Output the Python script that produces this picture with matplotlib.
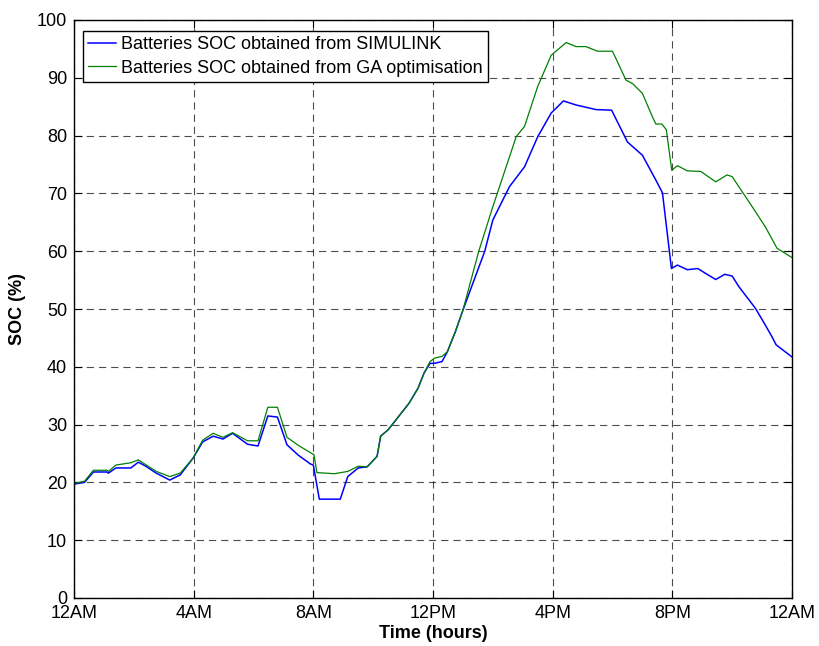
import numpy as np
import matplotlib
matplotlib.use('Agg')
import matplotlib.pyplot as plt

plt.rcParams['font.family'] = ['Liberation Sans', 'DejaVu Sans']

# Battery state of charge over one day (hours from midnight, SOC in %)
hours_sim = [0.0, 0.35, 0.65, 1.1, 1.15, 1.4, 1.9, 2.15, 2.4, 2.75, 3.2, 3.55, 3.98,
             4.3, 4.65, 4.98, 5.3, 5.8, 6.15, 6.48, 6.8, 7.12, 7.5, 7.9, 8.0, 8.2,
             8.9, 9.15, 9.5, 9.8, 10.13, 10.25, 10.5, 10.85, 11.2, 11.5, 11.7, 11.9,
             12.05, 12.3, 12.48, 12.75, 13.0, 13.73, 14.0, 14.56, 15.06, 15.5, 15.95,
             16.36, 16.78, 17.45, 17.97, 18.5, 19.0, 19.45, 19.67, 19.97, 20.17, 20.5,
             20.85, 21.1, 21.45, 21.75, 22.0, 22.22, 22.78, 23.11, 23.33, 23.47, 24.0]
soc_sim = [19.7, 20.0, 21.8, 21.8, 21.6, 22.5, 22.5, 23.5, 22.8, 21.6, 20.4, 21.3, 24.2,
           27.0, 28.0, 27.5, 28.5, 26.6, 26.3, 31.5, 31.3, 26.5, 24.7, 23.2, 23.0, 17.1,
           17.1, 21.0, 22.5, 22.7, 24.5, 28.0, 29.1, 31.4, 33.7, 36.3, 38.9, 40.6,
           40.6, 40.9, 42.6, 46.1, 49.8, 60.0, 65.4, 71.2, 74.6, 79.8, 83.9,
           86.0, 85.3, 84.5, 84.4, 78.9, 76.6, 72.3, 70.1, 57.0, 57.6, 56.8,
           57.0, 56.2, 55.1, 56.0, 55.7, 53.9, 50.1, 47.2, 45.2, 43.8, 41.7]

hours_ga = [0.0, 0.35, 0.65, 1.1, 1.15, 1.4, 1.9, 2.15, 2.75, 3.2, 3.55, 3.98, 4.3,
            4.65, 4.98, 5.3, 5.8, 6.15, 6.48, 6.8, 7.12, 7.5, 7.92, 8.02, 8.12, 8.7,
            9.15, 9.5, 9.8, 10.13, 10.25, 10.5, 10.85, 11.2, 11.5, 11.7, 11.9, 12.05,
            12.3, 12.48, 12.75, 13.0, 13.53, 14.0, 14.78, 15.06, 15.5, 15.95, 16.45,
            16.78, 17.11, 17.5, 18.0, 18.45, 18.67, 19.0, 19.33, 19.45, 19.65, 19.8,
            19.98, 20.17, 20.5, 20.95, 21.45, 21.83, 22.0, 22.67, 23.11, 23.5, 24.0]
soc_ga = [19.8, 20.2, 22.1, 22.1, 21.9, 23.0, 23.4, 23.9, 21.9, 21.0, 21.6, 24.2, 27.3,
          28.5, 27.8, 28.6, 27.2, 27.2, 33.0, 33.0, 27.8, 26.4, 25.1, 24.8, 21.7, 21.5,
          21.9, 22.8, 22.7, 24.5, 28.0, 29.1, 31.4, 33.7, 36.3, 38.9, 40.9, 41.5,
          41.8, 42.6, 46.1, 49.8, 60.0, 67.7, 79.8, 81.6, 88.5, 93.9, 96.1,
          95.4, 95.4, 94.6, 94.6, 89.6, 89.0, 87.3, 83.3, 82.0, 82.0, 81.0,
          74.0, 74.8, 73.9, 73.8, 72.0, 73.2, 72.9, 67.7, 64.2, 60.5, 58.9]

tick_hours = [0, 4, 8, 12, 16, 20, 24]
tick_labels = ['12AM', '4AM', '8AM', '12PM', '4PM', '8PM', '12AM']

fig = plt.figure(figsize=(8.19, 6.46), dpi=100)
ax = fig.add_axes([74 / 819, 48 / 646, 718 / 819, 578 / 646])

ax.plot(hours_sim, soc_sim, color='#0000ff', lw=1.1,
        label='Batteries SOC obtained from SIMULINK')
ax.plot(hours_ga, soc_ga, color='#008000', lw=0.9,
        label='Batteries SOC obtained from GA optimisation')

ax.set_xlim(0, 24)
ax.set_ylim(0, 100)
ax.set_xticks(tick_hours)
ax.set_xticklabels(tick_labels)
ax.set_yticks(np.arange(0, 101, 10))

# dashed grid on every tick, ticks pointing inward on all four sides
ax.grid(True, color='black', linestyle=(0, (6.5, 4.5)), linewidth=0.8, alpha=0.7)
ax.tick_params(direction='in', length=5.5, width=0.8, top=True, right=True,
               labelsize=13, pad=5)
for s in ax.spines.values():
    s.set_linewidth(1.0)

ax.set_xlabel('Time (hours)', fontsize=13, fontweight='bold', labelpad=2)
ax.set_ylabel('SOC (%)', fontsize=13, fontweight='bold', labelpad=8)

leg = ax.legend(loc='upper left', bbox_to_anchor=(0.0125, 0.981), borderaxespad=0,
                fontsize=13, frameon=True, fancybox=False, framealpha=1,
                handlelength=1.55, handletextpad=0.25, labelspacing=0.35,
                borderpad=0.3)
leg.get_frame().set_edgecolor('black')
leg.get_frame().set_linewidth(1.0)

fig.savefig('out.png', dpi=100)
